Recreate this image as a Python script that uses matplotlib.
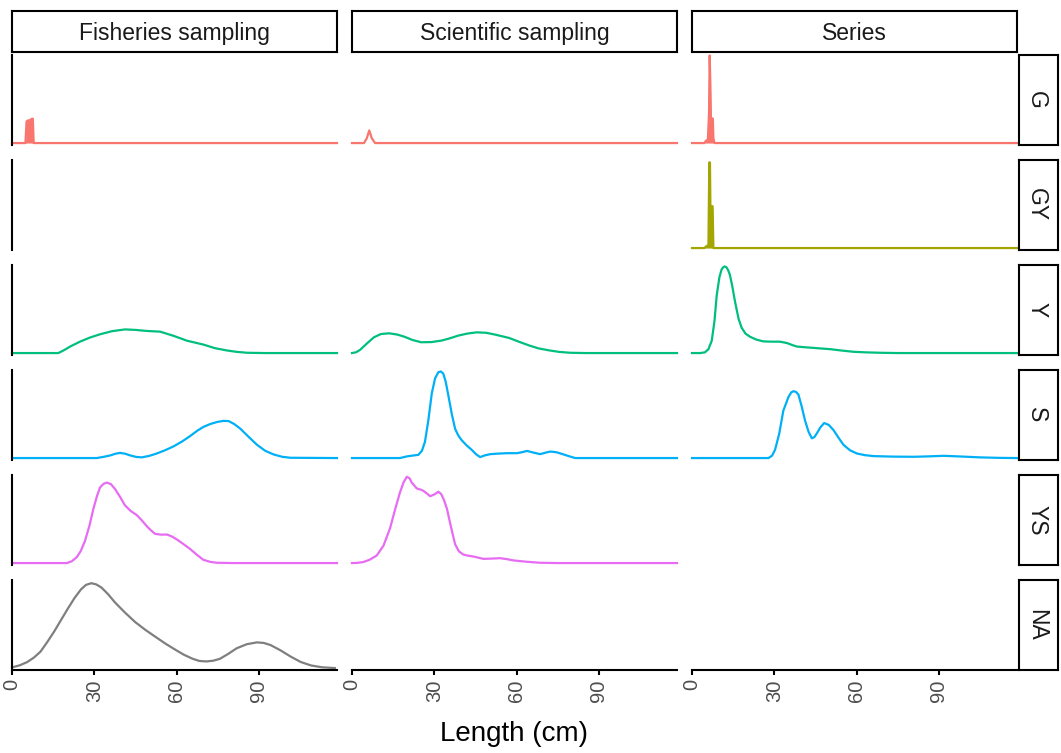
#!/usr/bin/env python3
"""Length-distribution densities by maturity stage and data source.

Facet grid: rows are maturity stages, columns are sampling sources.
Heights are relative densities (shared within a row), read off the
original figure.
"""

import matplotlib

matplotlib.use("Agg")
import matplotlib.pyplot as plt

plt.rcParams["font.family"] = ["Liberation Sans", "DejaVu Sans"]

OUT = "out.png"

# Facet levels and colours (ggplot hue palette, NA in grey).
ROWS = ["G", "GY", "Y", "S", "YS", "NA"]
COLS = ["Fisheries sampling", "Scientific sampling", "Series"]
COLORS = ["#F8766D", "#A3A500", "#00BF7D", "#00B0F6", "#E76BF3", "#7F7F7F"]
TICKS = [0, 30, 60, 90]
XMAX = 118.5

# --- G ---------------------------------------------------------------
G_FISH_X = [0, 4.9, 5.3, 5.6, 6.5, 7.3, 7.6, 7.9, 118.5]
G_FISH_Y = [0, 0, 22, 23, 23.5, 25, 25, 0, 0]
G_SCI_X = [0, 4.4, 5.4, 6.3, 7.2, 8.4, 118.5]
G_SCI_Y = [0, 0, 5, 13, 5, 0, 0]
G_SER_X = [0, 4.5, 5.0, 5.8, 6.2, 6.45, 6.7, 6.9, 7.6, 7.8, 8.2, 118.5]
G_SER_Y = [0, 0, 2, 4, 30, 90, 60, 26, 25, 5, 0, 0]

# --- GY --------------------------------------------------------------
GY_SER_X = [0, 4.5, 5.3, 6.0, 6.3, 6.55, 6.75, 6.9, 7.5, 7.8, 118.5]
GY_SER_Y = [0, 0, 2, 3, 88, 88, 30, 43, 43, 0, 0]

# --- Y ---------------------------------------------------------------
Y_FISH_X = [0, 16.9, 19, 21.2, 25, 28.5, 32.1, 36.5, 41.2, 45, 49.2,
            54, 58.9, 63.8, 69.8, 74, 78.3, 82, 85.7, 92, 118.5]
Y_FISH_Y = [0, 0, 3, 6.7, 12, 16, 19.3, 22.5, 24.3, 23.8, 22.7,
            22, 17.7, 12.7, 8.7, 5, 2.7, 1.2, 0.3, 0, 0]
Y_SCI_X = [0, 1.5, 3.0, 5.5, 8, 10.5, 13.5, 16.5, 19, 22, 25.2, 29,
           32.6, 35.5, 38.7, 42, 45.5, 49, 52.3, 57.3, 61, 64.6, 68,
           72, 75.5, 79.5, 85, 118.5]
Y_SCI_Y = [0, 0.8, 3.4, 10, 16.2, 19.5, 20.3, 19, 16.9, 13.5, 11.1, 11.3,
           12.8, 15, 17.9, 20, 21.3, 20.8, 18.9, 15.5, 11.5, 7.8, 4.8,
           2.7, 1.2, 0.3, 0, 0]
Y_SER_X = [0, 3, 4.7, 6, 7.2, 8.2, 9, 10, 10.8, 11.5, 12, 12.6, 13.2,
           13.8, 14.6, 15.7, 17, 18.1, 19.5, 21.2, 23.5, 26, 29, 32.1,
           34.6, 36.5, 38.2, 41, 44.3, 47, 50.4, 54.5, 58.9, 63.5, 68.6,
           75, 118.5]
Y_SER_Y = [0, 0, 0.7, 4, 12.7, 33, 59, 78, 86, 88.5, 89, 88, 85,
           80.5, 70, 52.7, 35, 26, 20, 16.7, 13.8, 12, 11.7, 11.7,
           10.3, 8.3, 6.7, 6, 5.3, 4.7, 4, 2.6, 1.3, 0.7, 0.3,
           0, 0]

# --- S ---------------------------------------------------------------
S_FISH_X = [0, 30.9, 33.5, 35.8, 37.8, 39.4, 41.2, 43.1, 45.2, 47.3, 50,
            52.8, 55.8, 58.9, 62, 65, 67.5, 69.8, 72.3, 74.7, 77, 79,
            81, 83.2, 86.2, 89.3, 92.3, 95.4, 98.5, 101.5, 118.5]
S_FISH_Y = [0, 0, 1.3, 2.7, 4.5, 5.3, 4.5, 2.7, 1.2, 0.7, 2.2,
            4.7, 8, 12, 17, 22.7, 28, 32, 35, 37, 38.2, 38,
            35, 30.3, 22, 13.7, 7.5, 3.7, 1.3, 0.3, 0]
S_SCI_X = [0, 17.5, 20, 22, 24.2, 25.5, 26.6, 27.8, 29.1, 30.3, 31.5,
           32.4, 33.3, 34.2, 35.2, 36.4, 37.6, 38.8, 40, 41.8, 43.7, 45.2,
           46.7, 48.5, 50.4, 53.5, 56.5, 60.1, 62, 63.8, 66.2, 68.6, 70.5,
           72.3, 74.5, 76.5, 79, 81.4, 118.5]
S_SCI_Y = [0, 0, 1.7, 2.5, 3.3, 7.5, 16.7, 38, 66.7, 82, 88.3,
           89, 86.7, 78, 63.3, 45, 30, 23, 18.3, 13, 8.3, 4,
           1, 2.8, 4, 4.6, 5, 5, 6, 7.3, 5.6, 4, 5.5,
           6.7, 6, 4.3, 2, 0, 0]
S_SER_X = [0, 27.9, 29.2, 30.3, 31.8, 33.3, 35.2, 36.2, 37, 37.9, 38.8,
           40, 41.2, 42.5, 43.7, 44.6, 45.5, 46.8, 48.2, 49.9, 51.6, 53.4,
           55.2, 57.6, 60.1, 63, 66.2, 73, 80.8, 86, 91.7, 98, 105, 112,
           118.5]
S_SER_Y = [0, 0, 2.5, 8.7, 25, 48.7, 63, 67.5, 68.7, 68, 65.3,
           53, 38.7, 27, 20.3, 21.5, 25.3, 31.5, 36, 34, 28.7, 21,
           13.7, 8, 4.7, 3, 2, 1.5, 1.3, 1.7, 2.3, 1.6, 0.7, 0.2,
           0]

# --- YS --------------------------------------------------------------
YS_FISH_X = [0, 20, 21.8, 23.6, 25.1, 26.6, 28.2, 29.7, 31, 32.1, 33.4,
             34.6, 36.1, 37.6, 39.4, 41.2, 43.3, 45.5, 47.3, 49.2, 50.7,
             52.2, 54.3, 56.5, 58.3, 60.1, 62.5, 65, 67.4, 69.8, 72.3,
             74.7, 80, 118.5]
YS_FISH_Y = [0, 0, 1.8, 6, 12.5, 22.7, 38, 56, 69, 77.7, 81.5,
             82.7, 81, 76, 68, 59.3, 53.5, 49.3, 44, 37.7, 33.5,
             30, 29.2, 29.3, 27.3, 24.3, 19.5, 14.3, 8.5, 3.3, 1.2,
             0.3, 0, 0]
YS_SCI_X = [0, 2, 4.1, 6.5, 9, 11.5, 13.9, 15.8, 17.5, 18.8, 20, 21,
            21.8, 23.6, 25, 26, 27.3, 28.5, 30, 31.5, 32.5, 33.5, 34.6,
            36.1, 37.6, 39, 40.6, 42.5, 44.3, 47.9, 51, 54, 56.5, 58.9,
            63.8, 68.6, 75, 118.5]
YS_SCI_Y = [0, 0.2, 1, 3.5, 7.7, 18, 36, 56, 72.7, 83, 88.7, 87,
            82.7, 76.7, 75.5, 74.3, 71.5, 68.7, 70.5, 73.3, 71, 65, 56,
            37, 19.3, 12, 8.7, 7.5, 6.7, 4.3, 4.6, 5, 4, 2.7,
            1.3, 0.3, 0, 0]

# --- NA --------------------------------------------------------------
NA_FISH_X = [0, 2.8, 5.5, 8, 10.4, 12.8, 15.3, 17.8, 20.3, 22.8, 25.2,
             27, 28.9, 30.7, 32.6, 35, 37.5, 41.2, 44.9, 48.6, 52.3,
             56, 59.7, 62.8, 65.9, 68.3, 70.8, 73.3, 75.8, 78.8, 81.9,
             85.6, 89.3, 91.8, 94.3, 97.9, 101.6, 105.3, 109, 113, 117.7]
NA_FISH_Y = [0.7, 2.8, 6.1, 10.8, 16.9, 26.5, 37.2, 49, 60.8, 72, 81,
             85.5, 87.2, 86, 82.8, 76, 67.6, 57, 47.3, 39.3, 32.1,
             25, 18.6, 13.5, 9.5, 7.3, 6.8, 7.5, 9.5, 14.5, 20.3,
             24.5, 26.4, 25.8, 23.6, 18.2, 11.8, 6.2, 2.7, 0.8, 0]

# (row, column) -> curve, built from the lists above.
CURVES = {
    ("G", 0): (G_FISH_X, G_FISH_Y),
    ("G", 1): (G_SCI_X, G_SCI_Y),
    ("G", 2): (G_SER_X, G_SER_Y),
    ("GY", 2): (GY_SER_X, GY_SER_Y),
    ("Y", 0): (Y_FISH_X, Y_FISH_Y),
    ("Y", 1): (Y_SCI_X, Y_SCI_Y),
    ("Y", 2): (Y_SER_X, Y_SER_Y),
    ("S", 0): (S_FISH_X, S_FISH_Y),
    ("S", 1): (S_SCI_X, S_SCI_Y),
    ("S", 2): (S_SER_X, S_SER_Y),
    ("YS", 0): (YS_FISH_X, YS_FISH_Y),
    ("YS", 1): (YS_SCI_X, YS_SCI_Y),
    ("NA", 0): (NA_FISH_X, NA_FISH_Y),
}
# Very narrow spikes render as solid blocks in the original.
FILLED = {("G", 0), ("G", 2), ("GY", 2)}

# Layout in pixels (figure is 1061 x 753).
W, H = 1061, 753
COL_LEFT = [12, 352, 692]
COL_W = 325
ROW_TOP = [55, 160, 265, 370, 475, 580]
ROW_H = 90
STRIP_TOP, STRIP_H = 11, 41
RSTRIP_LEFT, RSTRIP_W = 1019, 39


def rect(left, top, width, height):
    return [left / W, 1 - (top + height) / H, width / W, height / H]


fig = plt.figure(figsize=(W / 100, H / 100), dpi=100)

for r, row in enumerate(ROWS):
    for c, col in enumerate(COLS):
        ax = fig.add_axes(rect(COL_LEFT[c], ROW_TOP[r], COL_W, ROW_H))
        ax.set_xlim(0, XMAX)
        ax.set_ylim(-2, 90.5)
        for side in ("top", "right", "left", "bottom"):
            ax.spines[side].set_visible(False)
        ax.set_yticks([])
        if c == 0:
            ax.spines["left"].set_visible(True)
            ax.spines["left"].set_linewidth(1.5)
        if r == len(ROWS) - 1:
            ax.spines["bottom"].set_visible(True)
            ax.spines["bottom"].set_linewidth(1.5)
            ax.set_xticks(TICKS)
            ax.set_xticklabels([str(t) for t in TICKS], rotation=90,
                               fontsize=14.5, color="#4D4D4D")
            ax.tick_params(axis="x", length=3.6, width=1.5, pad=3)
        else:
            ax.set_xticks([])
        if (row, c) in CURVES:
            xs, ys = CURVES[(row, c)]
            ax.plot(xs, ys, color=COLORS[r], lw=1.6, clip_on=False,
                    solid_joinstyle="round")
            if (row, c) in FILLED:
                ax.fill_between(xs, 0, ys, color=COLORS[r], lw=0)

    # Right-hand row strip.
    sax = fig.add_axes(rect(RSTRIP_LEFT, ROW_TOP[r], RSTRIP_W, ROW_H))
    sax.set_xticks([])
    sax.set_yticks([])
    for sp in sax.spines.values():
        sp.set_linewidth(1.5)
    sax.text(0.45, 0.5, row, rotation=-90, ha="center", va="center",
             fontsize=16.5, color="#1A1A1A", transform=sax.transAxes)

# Column strips on top.
for c, col in enumerate(COLS):
    sax = fig.add_axes(rect(COL_LEFT[c], STRIP_TOP, COL_W, STRIP_H))
    sax.set_xticks([])
    sax.set_yticks([])
    for sp in sax.spines.values():
        sp.set_linewidth(1.5)
    sax.text(0.5, 0.45, col, ha="center", va="center",
             fontsize=16.5, color="#1A1A1A", transform=sax.transAxes)

fig.text(514.5 / W, 1 - 734 / H, "Length (cm)", ha="center", va="center",
         fontsize=20, color="black")

fig.savefig(OUT, dpi=100)
